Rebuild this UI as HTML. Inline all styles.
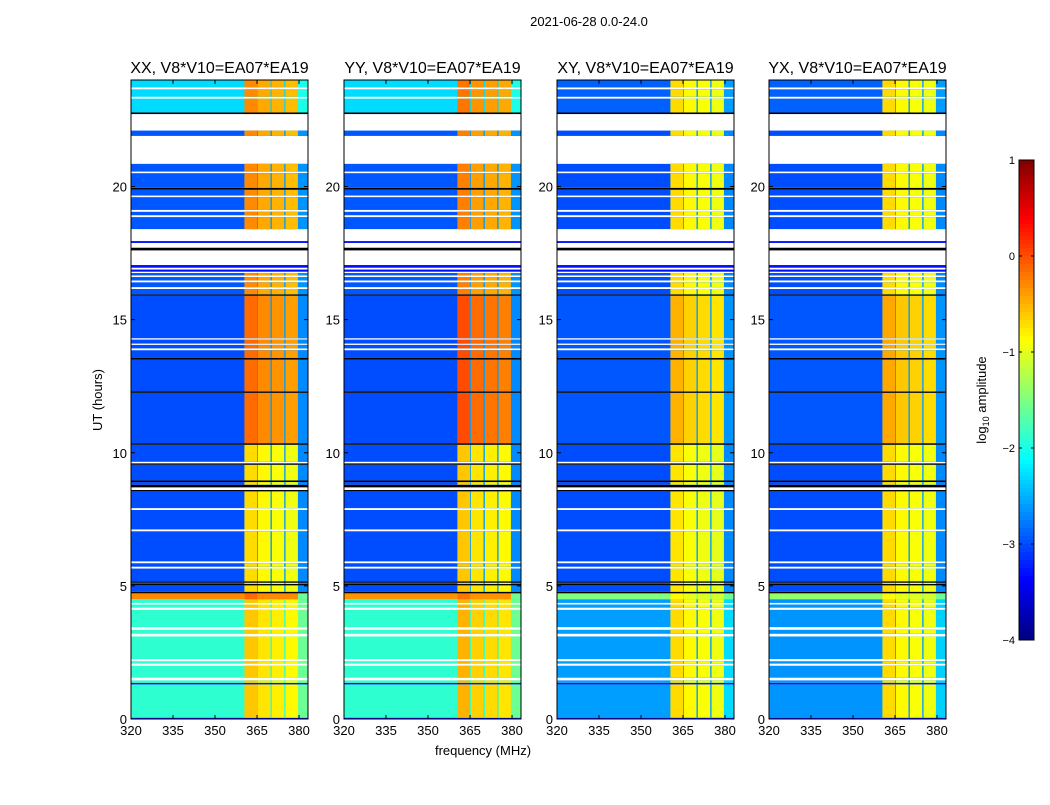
<!DOCTYPE html>
<html><head><meta charset="utf-8"><style>
body{margin:0;background:#fff;}
svg text{font-family:"Liberation Sans",sans-serif;fill:#000;}
</style></head><body>
<svg id="s" width="1050" height="800" xmlns="http://www.w3.org/2000/svg">
<text x="589" y="26" font-size="13" text-anchor="middle">2021-06-28 0.0-24.0</text>
<text x="483" y="755" font-size="13" text-anchor="middle">frequency (MHz)</text>
<text x="102" y="400" font-size="13" text-anchor="middle" transform="rotate(-90 102 400)">UT (hours)</text>
<text x="986" y="400" font-size="13" text-anchor="middle" transform="rotate(-90 986 400)">log<tspan font-size="9" dy="3">10</tspan><tspan dy="-3"> amplitude</tspan></text>
<g id="plots"></g>
</svg>
<script>
// ---- data ----
const panelTitles = ["XX, V8*V10=EA07*EA19","YY, V8*V10=EA07*EA19","XY, V8*V10=EA07*EA19","YX, V8*V10=EA07*EA19"];
const xTicks = [320,335,350,365,380];
const yTicks = [0,5,10,15,20];
const cbTicks = [1,0,-1,-2,-3,-4];
// time segments [startHour, endHour, kind] d=data w=blank k=black b=blue line
const segments = [
[0,0.05,'b'],[0.05,1.3,'d'],[1.3,1.36,'b'],[1.36,1.45,'d'],[1.45,1.55,'w'],[1.55,2.0,'d'],[2.0,2.08,'w'],[2.08,2.17,'d'],[2.17,2.25,'w'],
[2.25,3.1,'d'],[3.1,3.2,'w'],[3.2,3.35,'d'],[3.35,3.45,'w'],[3.45,4.1,'d'],[4.1,4.18,'w'],[4.18,4.3,'d'],[4.3,4.36,'w'],[4.36,4.5,'d'],
[4.5,4.72,'d'],[4.72,4.78,'k'],[4.78,5.02,'d'],[5.02,5.07,'k'],[5.07,5.12,'d'],[5.12,5.17,'k'],[5.17,5.65,'d'],[5.65,5.72,'w'],[5.72,5.85,'d'],[5.85,5.92,'w'],
[5.92,7.05,'d'],[7.05,7.12,'w'],[7.12,7.85,'d'],[7.85,7.92,'w'],[7.92,8.55,'d'],[8.55,8.6,'k'],[8.6,8.7,'w'],[8.7,8.8,'k'],[8.8,8.9,'d'],[8.9,8.96,'k'],[8.96,9.55,'d'],[9.55,9.6,'k'],[9.6,9.66,'w'],
[9.66,10.3,'d'],[10.3,10.36,'k'],[10.36,12.25,'d'],[12.25,12.3,'k'],[12.3,13.5,'d'],[13.5,13.56,'k'],[13.56,13.85,'d'],[13.85,13.92,'w'],[13.92,14.05,'d'],[14.05,14.1,'w'],[14.1,14.25,'d'],[14.25,14.3,'w'],
[14.3,15.9,'d'],[15.9,15.95,'k'],[15.95,16.15,'d'],[16.15,16.22,'w'],[16.22,16.4,'d'],[16.4,16.47,'w'],[16.47,16.6,'d'],[16.6,16.66,'w'],[16.66,16.75,'d'],[16.75,16.8,'w'],[16.8,16.88,'b'],[16.88,16.95,'w'],[16.95,17.05,'b'],
[17.05,17.6,'w'],[17.6,17.7,'k'],[17.7,17.88,'w'],[17.88,17.95,'b'],[17.95,18.4,'w'],[18.4,18.85,'d'],[18.85,18.92,'w'],[18.92,19.05,'d'],[19.05,19.12,'w'],[19.12,19.6,'d'],[19.6,19.66,'w'],[19.66,19.88,'d'],[19.88,19.95,'k'],
[19.95,20.5,'d'],[20.5,20.56,'w'],[20.56,20.85,'d'],[20.85,21.9,'w'],[21.9,22.1,'d'],[22.1,22.72,'w'],[22.72,22.78,'k'],[22.78,23.3,'d'],[23.3,23.37,'w'],[23.37,23.65,'d'],[23.65,23.72,'w'],[23.72,24,'d']
];
// time regions: [start, end]
const regions = [[0,4.5],[4.5,4.72],[4.72,10.4],[10.4,16.0],[16.0,22.75],[22.75,24]];
// background log amplitude per region, per panel (XX,YY,XY,YX)
const bgLevels = [[-1.9,-1.9,-2.6,-2.65],[-0.3,-0.35,-1.5,-1.4],[-3.0,-3.0,-3.0,-3.0],[-3.0,-3.0,-2.95,-2.95],[-2.95,-2.95,-3.0,-3.0],[-2.3,-2.3,-2.9,-2.9]];
// RFI band level per region, per panel
const rfiLevels = [[-0.75,-0.65,-0.85,-0.85],[-0.3,-0.35,-1.0,-1.0],[-0.85,-0.75,-0.9,-0.85],[-0.3,-0.15,-0.65,-0.6],[-0.45,-0.4,-0.85,-0.85],[-0.45,-0.35,-0.85,-0.85]];
// RFI bands [fStart, fEnd, offset]
const bands = [[360.5,365,0.15],[365.3,369.8,0],[370.3,374.7,-0.05],[375.2,379.6,-0.1]];
const fMin = 320, fMax = 383.2, hMin = 0, hMax = 24;

// ---- layout ----
const panelLeft = [131,344,557,769], PW = 177, PT = 80, PH = 639;
const NS = "http://www.w3.org/2000/svg";
const root = document.getElementById('plots');
function jet(v){ // v in [-4,1]
  let t = Math.max(0,Math.min(1,(v+4)/5));
  const c = x => Math.round(255*Math.max(0,Math.min(1,x)));
  return `rgb(${c(1.5-Math.abs(4*t-3))},${c(1.5-Math.abs(4*t-2))},${c(1.5-Math.abs(4*t-1))})`;
}
function mk(tag, attrs, parent){ const e=document.createElementNS(NS,tag); for(const k in attrs) e.setAttribute(k,attrs[k]); (parent||root).appendChild(e); return e; }
function regionIndex(h){ for(let i=0;i<regions.length;i++){ if(h>=regions[i][0]&&h<regions[i][1]) return i;} return regions.length-1; }

panelLeft.forEach((L,p)=>{
  const x = f => L + (f-fMin)/(fMax-fMin)*PW;
  const y = h => PT + PH - (h-hMin)/(hMax-hMin)*PH;
  const g = mk('g',{});
  
  
  segments.forEach(sg=>{
    const [h0,h1,k]=sg; const yt=y(h1), hh=Math.max(1,y(h0)-y(h1));
    if(k==='w') return;
    let r;
    if(k==='k'){ r=mk('rect',{x:L,y:yt,width:PW,height:hh,fill:'#000'},g); }
    else if(k==='b'){ r=mk('rect',{x:L,y:yt,width:PW,height:hh,fill:jet(-3.3)},g); }
    else {
      const ri=regionIndex((h0+h1)/2), bg=bgLevels[ri][p], rl=rfiLevels[ri][p];
      r=mk('rect',{x:L,y:yt,width:PW,height:hh,fill:jet(bg)},g);
      const e=mk('rect',{x:x(379.6),y:yt,width:L+PW-x(379.6),height:hh,fill:jet(Math.min(bg+0.3,-1.6))},g);
       
      const s=mk('rect',{x:x(360.5),y:yt,width:x(379.6)-x(360.5),height:hh,fill:jet(Math.max(bg,-2.6))},g);
       
      bands.forEach(b=>{
        const br=mk('rect',{x:x(b[0]),y:yt,width:x(b[1])-x(b[0]),height:hh,fill:jet(Math.max(bg,rl+b[2]))},g);
         
      });
    }
     
  });
  const fr=mk('rect',{x:L,y:PT,width:PW,height:PH,fill:'none',stroke:'#000','stroke-width':1},g);
   
  const t=mk('text',{x:L+PW/2,y:PT-7,'font-size':16,'text-anchor':'middle'},g); t.textContent=panelTitles[p];
   
  xTicks.forEach(v=>{
    mk('line',{x1:x(v),x2:x(v),y1:PT+PH,y2:PT+PH-4,stroke:'#000'},g);
    mk('line',{x1:x(v),x2:x(v),y1:PT,y2:PT+4,stroke:'#000'},g);
    const tl=mk('text',{x:x(v),y:PT+PH+16,'font-size':13,'text-anchor':'middle'},g); tl.textContent=v;
     
  });
  yTicks.forEach(v=>{
    mk('line',{x1:L,x2:L+4,y1:y(v),y2:y(v),stroke:'#000'},g);
    mk('line',{x1:L+PW,x2:L+PW-4,y1:y(v),y2:y(v),stroke:'#000'},g);
    const tl=mk('text',{x:L-4,y:y(v)+5,'font-size':13,'text-anchor':'end'},g); tl.textContent=v;
     
  });
});
// colorbar
const CX=1019, CW=15, CT=160, CH=480;
const cy = v => CT + (1-v)/5*CH;
const cg = mk('g',{});
 
for(let i=0;i<120;i++){ const v0=1-i*5/120; mk('rect',{x:CX,y:cy(v0),width:CW,height:CH/120+0.5,fill:jet(v0-5/240)},cg); }
mk('rect',{x:CX,y:CT,width:CW,height:CH,fill:'none',stroke:'#000'},cg);
cbTicks.forEach(v=>{
  mk('line',{x1:CX,x2:CX+3,y1:cy(v),y2:cy(v),stroke:'#000'},cg);
  mk('line',{x1:CX+CW,x2:CX+CW-3,y1:cy(v),y2:cy(v),stroke:'#000'},cg);
  const tl=mk('text',{x:CX-4,y:cy(v)+4,'font-size':11,'text-anchor':'end'},cg); tl.textContent=(v<0?'\u2212'+(-v):v);
   
});
</script>
</body></html>
